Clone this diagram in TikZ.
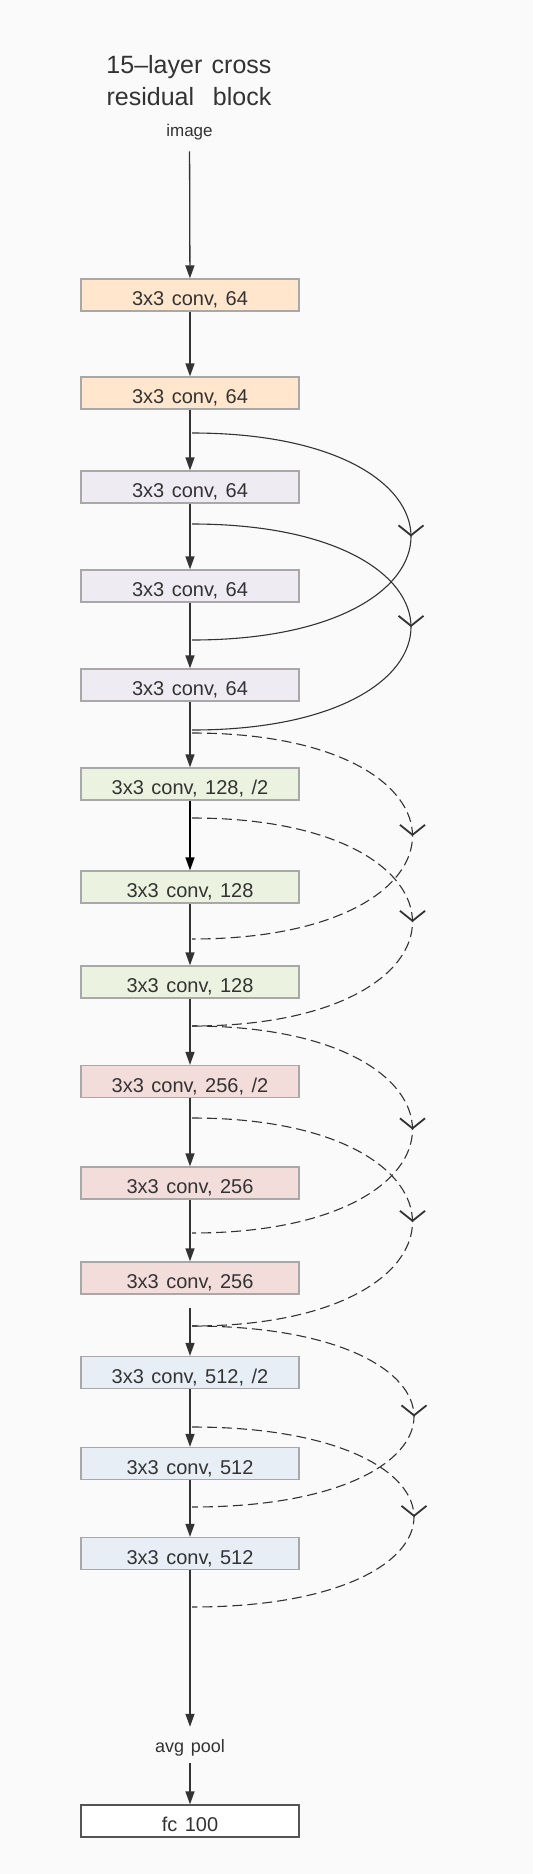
\documentclass[tikz,border=0pt]{standalone}
\usepackage{fontspec}
\setmainfont{Liberation Sans}[WordSpace=1.35]
\usetikzlibrary{arrows.meta,decorations.markings}
\definecolor{bg}{HTML}{FAFAFA}
\definecolor{peach}{HTML}{FFE6CC}
\definecolor{lav}{HTML}{EEEBF2}
\definecolor{grn}{HTML}{EBF2E0}
\definecolor{pnk}{HTML}{F2DDDB}
\definecolor{blu}{HTML}{E8EEF6}
\definecolor{bord}{HTML}{A8A8A8}
\definecolor{ink}{HTML}{333333}
\definecolor{fcbord}{HTML}{555555}
\begin{document}
\begin{tikzpicture}[x=1pt,y=-1pt,
  layer/.style={draw=bord,line width=1.3pt,minimum width=218pt,minimum height=32pt,
    inner sep=0pt,text height=21pt,text depth=0pt,font=\fontsize{20}{24}\selectfont,text=ink},
  flow/.style={draw=ink,line width=1.3pt,-{Triangle[length=13pt,width=9pt]}},
  skip/.style={draw=ink,line width=1.1pt,postaction={decorate},
    decoration={markings,mark=at position 0.5 with {\arrow{Straight Barb[length=10pt,width=25pt,line width=1.8pt]}}}},
  dsh/.style={dash pattern=on 10pt off 5pt},
  lbl/.style={inner sep=0pt,text=ink,anchor=base}
  ]
\fill[bg] (0,0) rectangle (533,1874);
\useasboundingbox (0,0) rectangle (533,1874);

\node[text=ink,align=center,inner sep=0pt,font=\fontsize{25}{32}\selectfont] (title) at (189,81) {15--layer cross\\residual\ \ block};
\node[lbl,font=\fontsize{17}{20}\selectfont] (image) at (189.5,136.7) {image};

\node[layer,fill=peach] (b1) at (190,295) {3x3 conv, 64};
\node[layer,fill=peach] (b2) at (190,393) {3x3 conv, 64};
\node[layer,fill=lav] (b3) at (190,487) {3x3 conv, 64};
\node[layer,fill=lav] (b4) at (190,586) {3x3 conv, 64};
\node[layer,fill=lav] (b5) at (190,685) {3x3 conv, 64};
\node[layer,fill=grn] (b6) at (190,784) {3x3 conv, 128, /2};
\node[layer,fill=grn] (b7) at (190,887) {3x3 conv, 128};
\node[layer,fill=grn] (b8) at (190,982) {3x3 conv, 128};
\node[layer,fill=pnk] (b9) at (190,1081.5) {3x3 conv, 256, /2};
\node[layer,fill=pnk] (b10) at (190,1183) {3x3 conv, 256};
\node[layer,fill=pnk] (b11) at (190,1278) {3x3 conv, 256};
\node[layer,fill=blu] (b12) at (190,1372.5) {3x3 conv, 512, /2};
\node[layer,fill=blu] (b13) at (190,1463.5) {3x3 conv, 512};
\node[layer,fill=blu] (b14) at (190,1553.5) {3x3 conv, 512};
\node[lbl,font=\fontsize{18}{20}\selectfont] (avg) at (190,1752) {avg pool};
\node[layer,fill=white,draw=fcbord] (fc) at (190,1821) {fc 100};

% main flow
\draw[flow,shorten <=11pt] (image) -- (b1);
\draw[flow] (b1) -- (b2);
\draw[flow] (b2) -- (b3);
\draw[flow] (b3) -- (b4);
\draw[flow] (b4) -- (b5);
\draw[flow] (b5) -- (b6);
\draw[flow,draw=black] (b6) -- (b7);
\draw[flow] (b7) -- (b8);
\draw[flow] (b8) -- (b9);
\draw[flow] (b9) -- (b10);
\draw[flow] (b10) -- (b11);
\draw[flow,shorten <=13pt] (b11) -- (b12);
\draw[flow] (b12) -- (b13);
\draw[flow] (b13) -- (b14);
\draw[flow,shorten >=12pt] (b14) -- (avg.north);
\draw[flow,shorten <=7pt] (avg.south) -- (fc);

% skip coordinates
\coordinate (s1a) at (192,433);
\coordinate (s1b) at (192,640);
\coordinate (s2a) at (192,524);
\coordinate (s2b) at (192,730);
\coordinate (d1a) at (192,733);
\coordinate (d1b) at (192,939);
\coordinate (d2a) at (192,818);
\coordinate (d2b) at (192,1026);
\coordinate (d3a) at (192,1026);
\coordinate (d3b) at (192,1233);
\coordinate (d4a) at (192,1118);
\coordinate (d4b) at (192,1326);
\coordinate (d5a) at (192,1326);
\coordinate (d5b) at (192,1507);
\coordinate (d6a) at (192,1427);
\coordinate (d6b) at (192,1607);

\draw[skip] (s1a) .. controls +(292,0) and +(292,0) .. (s1b);
\draw[skip] (s2a) .. controls +(292,0) and +(292,0) .. (s2b);
\draw[skip,dsh] (d1a) .. controls +(294,0) and +(294,0) .. (d1b);
\draw[skip,dsh] (d2a) .. controls +(294,0) and +(294,0) .. (d2b);
\draw[skip,dsh] (d3a) .. controls +(294,0) and +(294,0) .. (d3b);
\draw[skip,dsh] (d4a) .. controls +(294,0) and +(294,0) .. (d4b);
\draw[skip,dsh] (d5a) .. controls +(296,0) and +(296,0) .. (d5b);
\draw[skip,dsh] (d6a) .. controls +(296,0) and +(296,0) .. (d6b);
\end{tikzpicture}
\end{document}
